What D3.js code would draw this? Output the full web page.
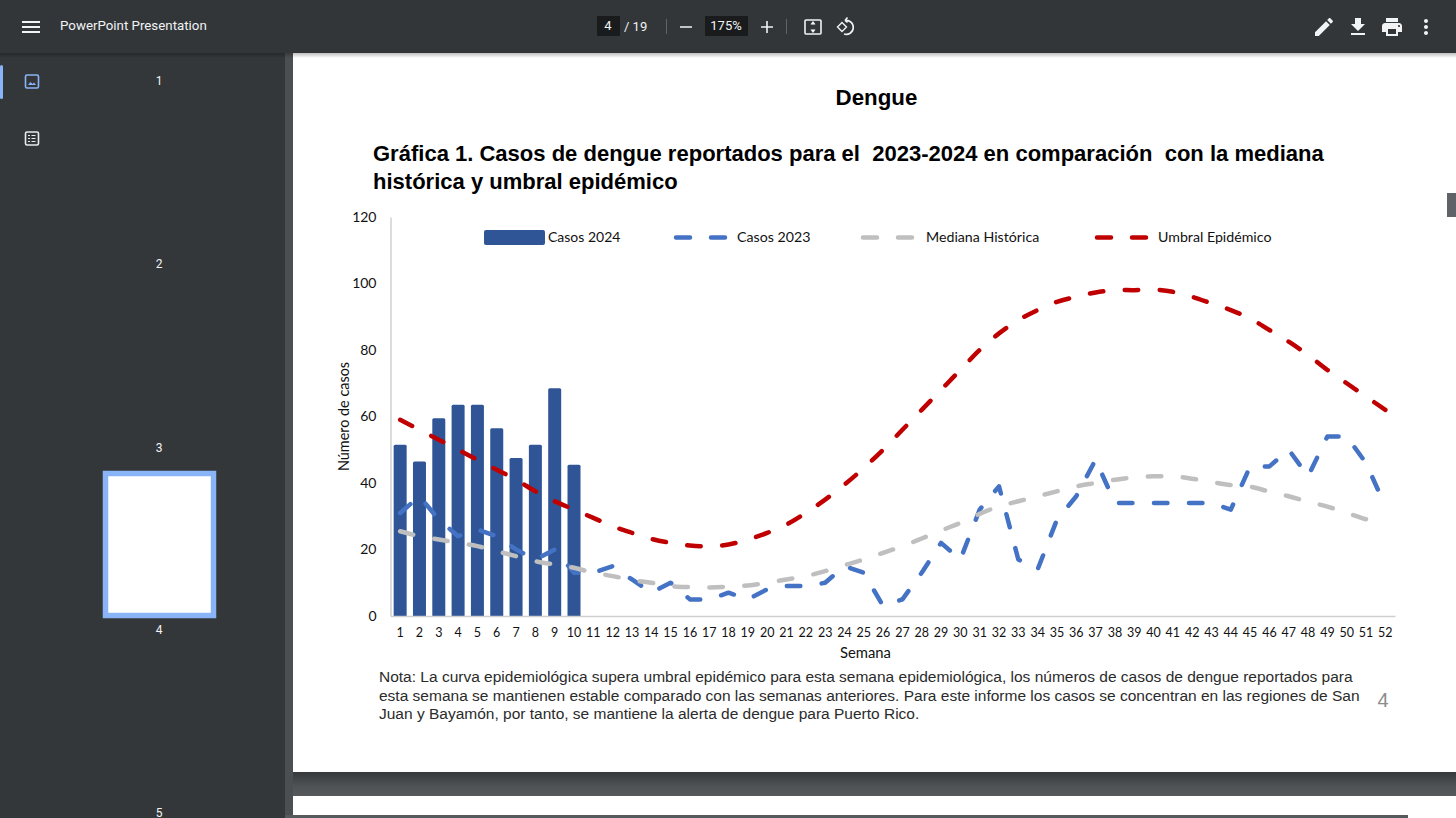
<!doctype html>
<html>
  <head>
    <meta charset="utf-8" />
    <title>PowerPoint Presentation</title>
    <script src="https://cdn.jsdelivr.net/npm/d3@7"></script>
    <style>
      html,
      body {
        margin: 0;
        overflow: hidden;
        background: #33373a;
      }
      text {
        white-space: pre;
      }
      .pdf {
        font-family: "Liberation Sans", Arial, sans-serif;
      }
      .chart text {
        font-family: Lato, "Open Sans", sans-serif;
        fill: #111;
      }
      .ui {
        font-family: Roboto, sans-serif;
        fill: #f1f3f4;
      }
    </style>
  </head>
  <body>
    <script>
      const weeks = d3.range(1, 53);
      const casos2024 = [51.5, 46.5, 59.5, 63.5, 63.5, 56.5, 47.5, 51.5, 68.5, 45.5];
      const casos2023 = [
        31, 36, 29, 24, 26, 24, 20, 17, 20, 13, 13, 15, 11, 7, 10, 5, 5, 7, 5, 8,
        9, 9, 10, 15, 13, 3, 5, 13, 22, 17, 32, 39, 17, 14, 29, 36, 47, 34, 34,
        34, 34, 34, 34, 32, 45, 45, 50, 42, 54, 54, 46, 33,
      ];
      const mediana = [
        25.5, 24, 23, 22, 21, 19.5, 18, 16.5, 15.5, 14.5, 13, 12, 10.8, 10, 9,
        8.7, 8.6, 8.8, 9.2, 10, 11, 12, 13.5, 15.3, 17, 19, 21, 23.3, 25.7, 28,
        30.7, 33, 34.5, 36, 37.5, 39, 40, 41, 41.7, 42, 42, 41.3, 40.3, 39.4,
        38.9, 37.4, 36, 34.4, 32.9, 31, 29.1, 27.6,
      ];
      const umbral = [
        59, 56, 53, 50, 47, 44, 41, 37.5, 34.5, 32, 29.5, 27, 25, 23.2, 22, 21.2,
        21, 21.5, 23, 25, 27.5, 31, 35, 39.5, 44.5, 50, 56, 62, 68, 74, 80, 85,
        89, 92, 94.5, 96, 97.3, 98, 98, 98.2, 97.5, 96, 94, 92, 89.5, 86, 82.5,
        78.5, 74, 70, 66, 62,
      ];
      const yTicks = [0, 20, 40, 60, 80, 100, 120];
      const noteLines = [
        "Nota: La curva epidemiológica supera umbral epidémico para esta semana epidemiológica, los números de casos de dengue reportados para",
        "esta semana se mantienen estable comparado con las semanas anteriores. Para este informe los casos se concentran en las regiones de San",
        "Juan y Bayamón, por tanto, se mantiene la alerta de dengue para Puerto Rico.",
      ];
      const titleLines = [
        "Gráfica 1. Casos de dengue reportados para el  2023-2024 en comparación  con la mediana",
        "histórica y umbral epidémico",
      ];

      const width = 1456;
      const height = 818;
      const dash = "13.5 21.5";
      const blue = "#4472c4";
      const grey = "#bfbfbf";
      const red = "#c00000";

      const svg = d3
        .select("body")
        .append("svg")
        .attr("width", width)
        .attr("height", height)
        .style("display", "block");

      const defs = svg.append("defs");
      const shadow = defs.append("linearGradient").attr("id", "bar-shadow").attr("x2", 0).attr("y2", 1);
      shadow.append("stop").attr("offset", 0).attr("stop-color", "#000").attr("stop-opacity", 0.25);
      shadow.append("stop").attr("offset", 1).attr("stop-color", "#000").attr("stop-opacity", 0);
      const gap = defs.append("linearGradient").attr("id", "page-gap").attr("x2", 0).attr("y2", 1);
      gap.append("stop").attr("offset", 0).attr("stop-color", "#35393c");
      gap.append("stop").attr("offset", 0.6).attr("stop-color", "#4f5356");
      gap.append("stop").attr("offset", 1).attr("stop-color", "#55595c");

      // viewer chrome
      svg.append("rect").attr("width", width).attr("height", height).attr("fill", "#33373a");
      svg.append("rect").attr("x", 285).attr("y", 53).attr("width", 8).attr("height", 765).attr("fill", "#4b4f52");
      svg.append("rect").attr("x", 293).attr("y", 53).attr("width", 1163).attr("height", 719).attr("fill", "#fff");
      svg.append("rect").attr("x", 293).attr("y", 772).attr("width", 1163).attr("height", 24).attr("fill", "url(#page-gap)");
      svg.append("rect").attr("x", 293).attr("y", 796).attr("width", 1163).attr("height", 22).attr("fill", "#fff");
      svg.append("rect").attr("x", 285).attr("y", 815).attr("width", 1123).attr("height", 3).attr("fill", "#55595c");
      svg.append("rect").attr("x", 1447).attr("y", 193).attr("width", 9).attr("height", 24).attr("fill", "#5f6368");

      svg.append("rect").attr("x", 0).attr("y", 53).attr("width", width).attr("height", 5).attr("fill", "url(#bar-shadow)");
      svg.append("rect").attr("width", width).attr("height", 53).attr("fill", "#323639");

      const icons = [
        { x: 19, y: 15, d: "M3 18h18v-2H3v2zm0-5h18v-2H3v2zm0-7v2h18V6H3z" },
        { x: 1312, y: 15, d: "M3 17.25V21h3.75L17.81 9.94l-3.75-3.75L3 17.25zM20.71 7.04c.39-.39.39-1.02 0-1.41l-2.34-2.34c-.39-.39-1.02-.39-1.41 0l-1.83 1.83 3.75 3.75 1.83-1.83z" },
        { x: 1346, y: 15, d: "M19 9h-4V3H9v6H5l7 7 7-7zM5 18v2h14v-2H5z" },
        { x: 1380, y: 15, d: "M19 8H5c-1.66 0-3 1.34-3 3v6h4v4h12v-4h4v-6c0-1.66-1.34-3-3-3zm-3 11H8v-5h8v5zm3-7c-.55 0-1-.45-1-1s.45-1 1-1 1 .45 1 1-.45 1-1 1zm-1-9H6v4h12V3z" },
        { x: 1414, y: 15, d: "M12 8c1.1 0 2-.9 2-2s-.9-2-2-2-2 .9-2 2 .9 2 2 2zm0 2c-1.1 0-2 .9-2 2s.9 2 2 2 2-.9 2-2-.9-2-2-2zm0 6c-1.1 0-2 .9-2 2s.9 2 2 2 2-.9 2-2-.9-2-2-2z" },
      ];
      svg
        .append("g")
        .selectAll("path")
        .data(icons)
        .join("path")
        .attr("transform", (d) => `translate(${d.x},${d.y})`)
        .attr("d", (d) => d.d)
        .attr("fill", "#f1f3f4");

      const ui = svg.append("g").attr("class", "ui");
      ui.append("text").attr("x", 60).attr("y", 30).attr("font-size", 13.3).text("PowerPoint Presentation");
      ui.append("rect").attr("x", 597).attr("y", 16).attr("width", 23).attr("height", 20).attr("fill", "#191b1c");
      ui.append("text").attr("x", 608).attr("y", 30).attr("font-size", 13).attr("text-anchor", "middle").text("4");
      ui.append("text").attr("x", 624).attr("y", 31).attr("font-size", 13).text("/ 19");
      ui.append("rect").attr("x", 705).attr("y", 16).attr("width", 43).attr("height", 20).attr("fill", "#191b1c");
      ui.append("text").attr("x", 726).attr("y", 30).attr("font-size", 13).attr("text-anchor", "middle").text("175%");
      ui.append("rect").attr("x", 666).attr("y", 19).attr("width", 1).attr("height", 15).attr("fill", "#5f6368");
      ui.append("rect").attr("x", 786).attr("y", 19).attr("width", 1).attr("height", 15).attr("fill", "#5f6368");

      // zoom, fit-to-page and rotate buttons
      const tools = svg.append("g").attr("fill", "none").attr("stroke", "#f1f3f4").attr("stroke-width", 1.6);
      tools.append("path").attr("d", "M680 27h12M761 27h12M767 21v12");
      tools.append("rect").attr("x", 805).attr("y", 20).attr("width", 16).attr("height", 14).attr("rx", 1);
      tools.append("path").attr("d", "M813 22v3M811 24.5l2-2.5 2 2.5M813 32v-3M811 29.5l2 2.500 2-2.500").attr("stroke-width", 1.2);
      tools.append("path").attr("d", "M845 20.500a7 7 0 1 1 -1 13.500M845 20.500l2.500-3M845 20.500l2.500 2");
      tools.append("path").attr("d", "M842 22.500l-4.500 4.500 4.500 4.500 4.500-4.500z").attr("stroke-width", 1.4);

      // sidebar
      svg.append("rect").attr("x", 0).attr("y", 65).attr("width", 3).attr("height", 34).attr("rx", 1.5).attr("fill", "#8ab4f8");
      svg.append("rect").attr("x", 25.5).attr("y", 75).attr("width", 13).attr("height", 13).attr("rx", 1.5).attr("fill", "none").attr("stroke", "#8ab4f8").attr("stroke-width", 1.6);
      svg.append("path").attr("d", "M28 85l2.5-3 2 2 1.5-1.5 2 2.5z").attr("fill", "#8ab4f8");
      svg.append("rect").attr("x", 25.5).attr("y", 132).attr("width", 13).attr("height", 13).attr("rx", 1.5).attr("fill", "none").attr("stroke", "#e8eaed").attr("stroke-width", 1.6);
      svg.append("path").attr("d", "M28 135.5h2M31.500 135.500h4M28 138.500h2M31.500 138.500h4M28 141.500h2M31.500 141.500h4").attr("stroke", "#e8eaed").attr("stroke-width", 1.2);
      svg.append("rect").attr("x", 105.5).attr("y", 473.5).attr("width", 108).attr("height", 142).attr("fill", "#fff").attr("stroke", "#8ab4f8").attr("stroke-width", 5.5);
      ui.selectAll(".page-no")
        .data([[1, 81], [2, 264], [3, 448], [4, 630], [5, 813]])
        .join("text")
        .attr("class", "page-no")
        .attr("x", 159)
        .attr("y", (d) => d[1] + 0.5)
        .attr("text-anchor", "middle")
        .attr("dominant-baseline", "middle")
        .attr("font-size", 12)
        .text((d) => d[0]);

      // page text
      const pdf = svg.append("g").attr("class", "pdf").attr("fill", "#000");
      pdf.append("text").attr("x", 876.5).attr("y", 104.5).attr("text-anchor", "middle").attr("font-size", 22.3).attr("font-weight", 700).text("Dengue");
      pdf.selectAll(".title")
        .data(titleLines)
        .join("text")
        .attr("class", "title")
        .attr("x", 373)
        .attr("y", (d, i) => 160.5 + i * 28.5)
        .attr("font-size", 22.03)
        .attr("font-weight", 700)
        .text((d) => d);
      pdf.selectAll(".note")
        .data(noteLines)
        .join("text")
        .attr("class", "note")
        .attr("x", 379)
        .attr("y", (d, i) => 682 + i * 18.5)
        .attr("font-size", 15.5)
        .attr("fill", "#2b2b2b")
        .text((d) => d);
      pdf.append("text").attr("x", 1383).attr("y", 707).attr("text-anchor", "middle").attr("font-size", 20).attr("fill", "#8c8c8c").text("4");

      // chart
      const chart = svg.append("g").attr("class", "chart");
      const x = d3.scaleBand().domain(weeks).range([390.5, 1395]);
      const y = d3.scaleLinear().domain([0, 120]).range([616, 217]);
      const cx = (d) => x(d) + x.bandwidth() / 2;

      const yAxis = chart
        .append("g")
        .attr("transform", "translate(390.5,0)")
        .call(d3.axisLeft(y).tickValues(yTicks).tickSize(0).tickPadding(14));
      yAxis.select(".domain").attr("stroke", "#d0d0d0").attr("stroke-width", 1.5);
      yAxis.selectAll("text").style("font-size", "14px");

      chart
        .append("g")
        .selectAll("rect")
        .data(casos2024)
        .join("rect")
        .attr("x", (d, i) => cx(weeks[i]) - 6.5)
        .attr("y", (d) => y(d))
        .attr("width", 13)
        .attr("height", (d) => y(0) - y(d) + 1)
        .attr("rx", 1.5)
        .attr("fill", "#2f5597");

      const xAxis = chart
        .append("g")
        .attr("transform", "translate(0,616)")
        .call(d3.axisBottom(x).tickSize(0).tickPadding(12));
      xAxis.select(".domain").attr("stroke", "#d0d0d0").attr("stroke-width", 1.5);
      xAxis.selectAll("text").style("font-size", "12.5px");

      const smooth = d3.line().x((d, i) => cx(weeks[i])).y((d) => y(d)).curve(d3.curveCatmullRom.alpha(0.5));
      const straight = d3.line().x((d, i) => cx(weeks[i])).y((d) => y(d));

      const series = [
        { name: "Casos 2023", values: casos2023, line: straight, color: blue, legendX: 674, textX: 737 },
        { name: "Mediana Histórica", values: mediana, line: smooth, color: grey, legendX: 861, textX: 926 },
        { name: "Umbral Epidémico", values: umbral, line: smooth, color: red, legendX: 1095, textX: 1158 },
      ];

      chart
        .append("g")
        .selectAll("path")
        .data(series)
        .join("path")
        .attr("d", (d) => d.line(d.values))
        .attr("fill", "none")
        .attr("stroke", (d) => d.color)
        .attr("stroke-width", 4.5)
        .attr("stroke-linecap", "round")
        .attr("stroke-linejoin", "round")
        .attr("stroke-dasharray", dash);

      // legend
      const legend = chart.append("g");
      legend.append("rect").attr("x", 484).attr("y", 230).attr("width", 61).attr("height", 15).attr("rx", 2).attr("fill", "#2f5597");
      legend.append("text").attr("x", 548).attr("y", 242).style("font-size", "14px").text("Casos 2024");
      const entry = legend.selectAll(".entry").data(series).join("g").attr("class", "entry");
      entry
        .append("path")
        .attr("d", (d) => `M${d.legendX + 2},237.5H${d.legendX + 52}`)
        .attr("fill", "none")
        .attr("stroke", (d) => d.color)
        .attr("stroke-width", 4.5)
        .attr("stroke-linecap", "round")
        .attr("stroke-dasharray", "14 21");
      entry
        .append("text")
        .attr("x", (d) => d.textX)
        .attr("y", 242)
        .style("font-size", "14.2px")
        .text((d) => d.name);

      chart.append("text").attr("x", 865.5).attr("y", 658).attr("text-anchor", "middle").style("font-size", "14.8px").text("Semana");
      chart
        .append("text")
        .attr("transform", "translate(349,416.5) rotate(-90)")
        .attr("text-anchor", "middle")
        .style("font-size", "14.4px")
        .text("Número de casos");
    </script>
  </body>
</html>
